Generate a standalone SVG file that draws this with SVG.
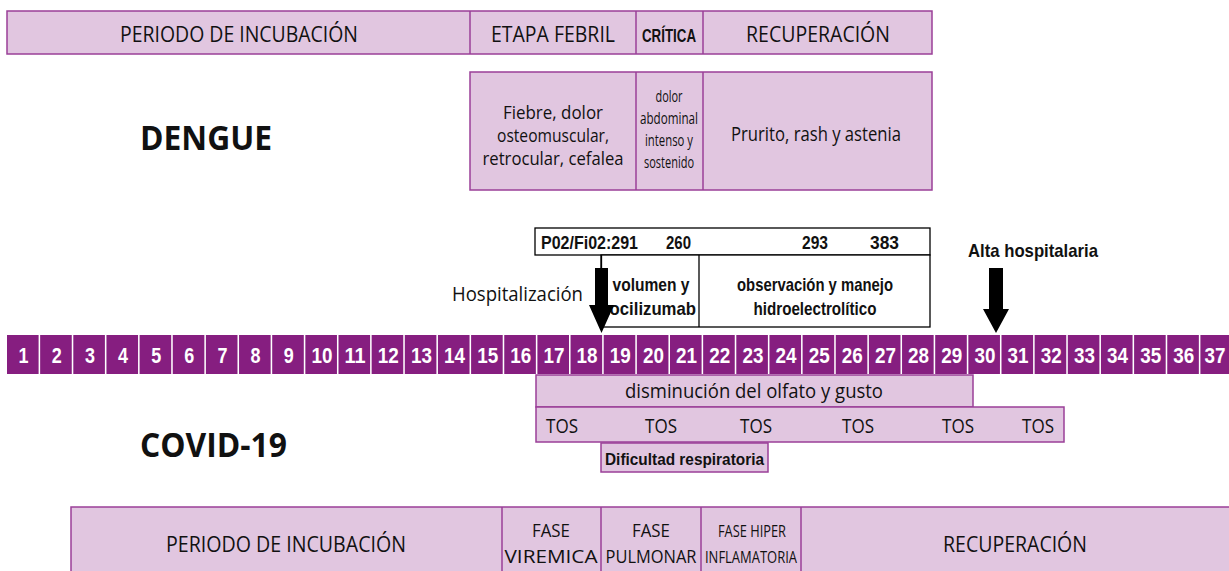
<svg xmlns="http://www.w3.org/2000/svg" width="1229" height="571" viewBox="0 0 1229 571">
<style>
.box{fill:#E1C6E0;stroke:#9A3F98;stroke-width:1.5}
.wbox{fill:#FFFFFF;stroke:#000000;stroke-width:1.3}
.cell{fill:#861E80}
.t{font-family:"Open Sans","Liberation Sans",sans-serif;fill:#111;text-anchor:middle}
.b{font-family:"Liberation Sans","Open Sans",sans-serif;font-weight:bold;fill:#111;text-anchor:middle}
.n{font-family:"Liberation Sans",sans-serif;font-weight:bold;fill:#FFFFFF;text-anchor:middle;font-size:22px}
.big{font-family:"Open Sans","Liberation Sans",sans-serif;font-weight:bold;fill:#111;text-anchor:middle;font-size:34px}
</style>
<rect width="1229" height="571" fill="#FFFFFF"/>

<g id="dengue-phases">
<rect class="box" x="7" y="11" width="925" height="43"/>
<line x1="470" y1="11" x2="470" y2="54" stroke="#9A3F98" stroke-width="1.5"/>
<line x1="636" y1="11" x2="636" y2="54" stroke="#9A3F98" stroke-width="1.5"/>
<line x1="703" y1="11" x2="703" y2="54" stroke="#9A3F98" stroke-width="1.5"/>
<text class="t" x="239" y="42" font-size="22" textLength="238" lengthAdjust="spacingAndGlyphs">PERIODO DE INCUBACIÓN</text>
<text class="t" x="553" y="42" font-size="22" textLength="124" lengthAdjust="spacingAndGlyphs">ETAPA FEBRIL</text>
<text class="b" x="669" y="42" font-size="19" textLength="54" lengthAdjust="spacingAndGlyphs">CRÍTICA</text>
<text class="t" x="818" y="42" font-size="22" textLength="144" lengthAdjust="spacingAndGlyphs">RECUPERACIÓN</text>
</g>

<g id="dengue-symptoms">
<rect class="box" x="470" y="72" width="462" height="118"/>
<line x1="636" y1="72" x2="636" y2="190" stroke="#9A3F98" stroke-width="1.5"/>
<line x1="703" y1="72" x2="703" y2="190" stroke="#9A3F98" stroke-width="1.5"/>
<text class="t" x="553" y="119" font-size="18.5" textLength="100" lengthAdjust="spacingAndGlyphs">Fiebre, dolor</text>
<text class="t" x="553" y="142" font-size="18.5" textLength="112" lengthAdjust="spacingAndGlyphs">osteomuscular,</text>
<text class="t" x="553" y="165" font-size="18.5" textLength="141" lengthAdjust="spacingAndGlyphs">retrocular, cefalea</text>
<text class="t" x="669" y="102" font-size="15.5" textLength="27" lengthAdjust="spacingAndGlyphs">dolor</text>
<text class="t" x="669" y="124" font-size="15.5" textLength="58" lengthAdjust="spacingAndGlyphs">abdominal</text>
<text class="t" x="669" y="146" font-size="15.5" textLength="48" lengthAdjust="spacingAndGlyphs">intenso y</text>
<text class="t" x="669" y="168" font-size="15.5" textLength="50" lengthAdjust="spacingAndGlyphs">sostenido</text>
<text class="t" x="816" y="141" font-size="20" textLength="170" lengthAdjust="spacingAndGlyphs">Prurito, rash y astenia</text>
</g>

<g id="dengue-label">
<text class="big" x="206" y="150" textLength="132" lengthAdjust="spacingAndGlyphs">DENGUE</text>
</g>

<g id="treatment">
<rect class="wbox" x="535" y="228" width="395" height="27"/>
<rect class="wbox" x="601" y="255" width="329" height="72"/>
<line x1="699" y1="255" x2="699" y2="327" stroke="#000" stroke-width="1.3"/>
<text class="b" x="589.5" y="249" font-size="19" textLength="97" lengthAdjust="spacingAndGlyphs">P02/Fi02:291</text>
<text class="b" x="678.5" y="249" font-size="19" textLength="25" lengthAdjust="spacingAndGlyphs">260</text>
<text class="b" x="815" y="249" font-size="19" textLength="26" lengthAdjust="spacingAndGlyphs">293</text>
<text class="b" x="884.5" y="249" font-size="19" textLength="29" lengthAdjust="spacingAndGlyphs">383</text>
<text class="b" x="651" y="291" font-size="18.5" textLength="77" lengthAdjust="spacingAndGlyphs">volumen y</text>
<text class="b" x="650" y="315" font-size="18.5" textLength="92" lengthAdjust="spacingAndGlyphs">tocilizumab</text>
<text class="b" x="815" y="291" font-size="18.5" textLength="156" lengthAdjust="spacingAndGlyphs">observación y manejo</text>
<text class="b" x="815" y="315" font-size="18.5" textLength="123" lengthAdjust="spacingAndGlyphs">hidroelectrolítico</text>
</g>

<g id="hospitalizacion">
<text class="t" x="517.5" y="301" font-size="20" textLength="131" lengthAdjust="spacingAndGlyphs">Hospitalización</text>
</g>

<g id="alta">
<text class="b" x="1033" y="257" font-size="19" textLength="130" lengthAdjust="spacingAndGlyphs">Alta hospitalaria</text>
</g>

<g id="connectors">
<line x1="601.5" y1="255" x2="601.5" y2="268" stroke="#000" stroke-width="1.3"/>
<polygon points="595,268 608,268 608,305 614,305 601.5,333 589,305 595,305" fill="#000"/>
<polygon points="989,268 1003,268 1003,309 1009,309 996,333 983,309 989,309" fill="#000"/>
</g>

<g id="days">
<rect class="cell" x="7" y="335" width="31.6" height="39"/>
<rect class="cell" x="40.15" y="335" width="31.6" height="39"/>
<rect class="cell" x="73.3" y="335" width="31.6" height="39"/>
<rect class="cell" x="106.45" y="335" width="31.6" height="39"/>
<rect class="cell" x="139.6" y="335" width="31.6" height="39"/>
<rect class="cell" x="172.75" y="335" width="31.6" height="39"/>
<rect class="cell" x="205.9" y="335" width="31.6" height="39"/>
<rect class="cell" x="239.05" y="335" width="31.6" height="39"/>
<rect class="cell" x="272.2" y="335" width="31.6" height="39"/>
<rect class="cell" x="305.35" y="335" width="31.6" height="39"/>
<rect class="cell" x="338.5" y="335" width="31.6" height="39"/>
<rect class="cell" x="371.65" y="335" width="31.6" height="39"/>
<rect class="cell" x="404.8" y="335" width="31.6" height="39"/>
<rect class="cell" x="437.95" y="335" width="31.6" height="39"/>
<rect class="cell" x="471.1" y="335" width="31.6" height="39"/>
<rect class="cell" x="504.25" y="335" width="31.6" height="39"/>
<rect class="cell" x="537.4" y="335" width="31.6" height="39"/>
<rect class="cell" x="570.55" y="335" width="31.6" height="39"/>
<rect class="cell" x="603.7" y="335" width="31.6" height="39"/>
<rect class="cell" x="636.85" y="335" width="31.6" height="39"/>
<rect class="cell" x="670" y="335" width="31.6" height="39"/>
<rect class="cell" x="703.15" y="335" width="31.6" height="39"/>
<rect class="cell" x="736.3" y="335" width="31.6" height="39"/>
<rect class="cell" x="769.45" y="335" width="31.6" height="39"/>
<rect class="cell" x="802.6" y="335" width="31.6" height="39"/>
<rect class="cell" x="835.75" y="335" width="31.6" height="39"/>
<rect class="cell" x="868.9" y="335" width="31.6" height="39"/>
<rect class="cell" x="902.05" y="335" width="31.6" height="39"/>
<rect class="cell" x="935.2" y="335" width="31.6" height="39"/>
<rect class="cell" x="968.35" y="335" width="31.6" height="39"/>
<rect class="cell" x="1001.5" y="335" width="31.6" height="39"/>
<rect class="cell" x="1034.65" y="335" width="31.6" height="39"/>
<rect class="cell" x="1067.8" y="335" width="31.6" height="39"/>
<rect class="cell" x="1100.95" y="335" width="31.6" height="39"/>
<rect class="cell" x="1134.1" y="335" width="31.6" height="39"/>
<rect class="cell" x="1167.25" y="335" width="31.6" height="39"/>
<rect class="cell" x="1200.4" y="335" width="31.6" height="39"/>
<text class="n" x="23.6" y="363" textLength="10" lengthAdjust="spacingAndGlyphs">1</text>
<text class="n" x="56.7" y="363" textLength="10" lengthAdjust="spacingAndGlyphs">2</text>
<text class="n" x="89.9" y="363" textLength="10" lengthAdjust="spacingAndGlyphs">3</text>
<text class="n" x="123" y="363" textLength="10" lengthAdjust="spacingAndGlyphs">4</text>
<text class="n" x="156.2" y="363" textLength="10" lengthAdjust="spacingAndGlyphs">5</text>
<text class="n" x="189.3" y="363" textLength="10" lengthAdjust="spacingAndGlyphs">6</text>
<text class="n" x="222.5" y="363" textLength="10" lengthAdjust="spacingAndGlyphs">7</text>
<text class="n" x="255.6" y="363" textLength="10" lengthAdjust="spacingAndGlyphs">8</text>
<text class="n" x="288.8" y="363" textLength="10" lengthAdjust="spacingAndGlyphs">9</text>
<text class="n" x="321.9" y="363" textLength="21" lengthAdjust="spacingAndGlyphs">10</text>
<text class="n" x="355.1" y="363" textLength="21" lengthAdjust="spacingAndGlyphs">11</text>
<text class="n" x="388.2" y="363" textLength="21" lengthAdjust="spacingAndGlyphs">12</text>
<text class="n" x="421.4" y="363" textLength="21" lengthAdjust="spacingAndGlyphs">13</text>
<text class="n" x="454.5" y="363" textLength="21" lengthAdjust="spacingAndGlyphs">14</text>
<text class="n" x="487.7" y="363" textLength="21" lengthAdjust="spacingAndGlyphs">15</text>
<text class="n" x="520.8" y="363" textLength="21" lengthAdjust="spacingAndGlyphs">16</text>
<text class="n" x="554" y="363" textLength="21" lengthAdjust="spacingAndGlyphs">17</text>
<text class="n" x="587.1" y="363" textLength="21" lengthAdjust="spacingAndGlyphs">18</text>
<text class="n" x="620.3" y="363" textLength="21" lengthAdjust="spacingAndGlyphs">19</text>
<text class="n" x="653.4" y="363" textLength="21" lengthAdjust="spacingAndGlyphs">20</text>
<text class="n" x="686.6" y="363" textLength="21" lengthAdjust="spacingAndGlyphs">21</text>
<text class="n" x="719.7" y="363" textLength="21" lengthAdjust="spacingAndGlyphs">22</text>
<text class="n" x="752.9" y="363" textLength="21" lengthAdjust="spacingAndGlyphs">23</text>
<text class="n" x="786" y="363" textLength="21" lengthAdjust="spacingAndGlyphs">24</text>
<text class="n" x="819.2" y="363" textLength="21" lengthAdjust="spacingAndGlyphs">25</text>
<text class="n" x="852.3" y="363" textLength="21" lengthAdjust="spacingAndGlyphs">26</text>
<text class="n" x="885.5" y="363" textLength="21" lengthAdjust="spacingAndGlyphs">27</text>
<text class="n" x="918.6" y="363" textLength="21" lengthAdjust="spacingAndGlyphs">28</text>
<text class="n" x="951.8" y="363" textLength="21" lengthAdjust="spacingAndGlyphs">29</text>
<text class="n" x="984.9" y="363" textLength="21" lengthAdjust="spacingAndGlyphs">30</text>
<text class="n" x="1018.1" y="363" textLength="21" lengthAdjust="spacingAndGlyphs">31</text>
<text class="n" x="1051.2" y="363" textLength="21" lengthAdjust="spacingAndGlyphs">32</text>
<text class="n" x="1084.4" y="363" textLength="21" lengthAdjust="spacingAndGlyphs">33</text>
<text class="n" x="1117.5" y="363" textLength="21" lengthAdjust="spacingAndGlyphs">34</text>
<text class="n" x="1150.7" y="363" textLength="21" lengthAdjust="spacingAndGlyphs">35</text>
<text class="n" x="1183.8" y="363" textLength="21" lengthAdjust="spacingAndGlyphs">36</text>
<text class="n" x="1215" y="363" textLength="21" lengthAdjust="spacingAndGlyphs">37</text>
</g>

<g id="olfato">
<rect class="box" x="536" y="375" width="437" height="32"/>
<text class="t" x="754" y="398" font-size="20" textLength="258" lengthAdjust="spacingAndGlyphs">disminución del olfato y gusto</text>
</g>

<g id="tos">
<rect class="box" x="536" y="407" width="528" height="35"/>
<text class="t" x="562" y="433" font-size="20" textLength="32" lengthAdjust="spacingAndGlyphs">TOS</text>
<text class="t" x="661" y="433" font-size="20" textLength="32" lengthAdjust="spacingAndGlyphs">TOS</text>
<text class="t" x="756" y="433" font-size="20" textLength="32" lengthAdjust="spacingAndGlyphs">TOS</text>
<text class="t" x="858" y="433" font-size="20" textLength="32" lengthAdjust="spacingAndGlyphs">TOS</text>
<text class="t" x="958" y="433" font-size="20" textLength="32" lengthAdjust="spacingAndGlyphs">TOS</text>
<text class="t" x="1038" y="433" font-size="20" textLength="32" lengthAdjust="spacingAndGlyphs">TOS</text>
</g>

<g id="dificultad">
<rect class="box" x="601" y="443" width="167" height="29"/>
<text class="b" x="684.5" y="465" font-size="17" textLength="159" lengthAdjust="spacingAndGlyphs">Dificultad respiratoria</text>
</g>

<g id="covid-label">
<text class="big" x="213.5" y="457" textLength="147" lengthAdjust="spacingAndGlyphs">COVID-19</text>
</g>

<g id="covid-phases">
<rect class="box" x="71" y="507" width="1165" height="72"/>
<line x1="502" y1="507" x2="502" y2="571" stroke="#9A3F98" stroke-width="1.5"/>
<line x1="601" y1="507" x2="601" y2="571" stroke="#9A3F98" stroke-width="1.5"/>
<line x1="701" y1="507" x2="701" y2="571" stroke="#9A3F98" stroke-width="1.5"/>
<line x1="801" y1="507" x2="801" y2="571" stroke="#9A3F98" stroke-width="1.5"/>
<text class="t" x="286" y="552" font-size="22" textLength="240" lengthAdjust="spacingAndGlyphs">PERIODO DE INCUBACIÓN</text>
<text class="t" x="551" y="537" font-size="18.5" textLength="38" lengthAdjust="spacingAndGlyphs">FASE</text>
<text class="t" x="551" y="563" font-size="18.5" textLength="93" lengthAdjust="spacingAndGlyphs">VIREMICA</text>
<text class="t" x="651" y="537" font-size="18.5" textLength="38" lengthAdjust="spacingAndGlyphs">FASE</text>
<text class="t" x="651" y="563" font-size="18.5" textLength="91" lengthAdjust="spacingAndGlyphs">PULMONAR</text>
<text class="t" x="752" y="537" font-size="16.5" textLength="68" lengthAdjust="spacingAndGlyphs">FASE HIPER</text>
<text class="t" x="751" y="563" font-size="16.5" textLength="92" lengthAdjust="spacingAndGlyphs">INFLAMATORIA</text>
<text class="t" x="1015" y="552" font-size="22" textLength="144" lengthAdjust="spacingAndGlyphs">RECUPERACIÓN</text>
</g>
</svg>
